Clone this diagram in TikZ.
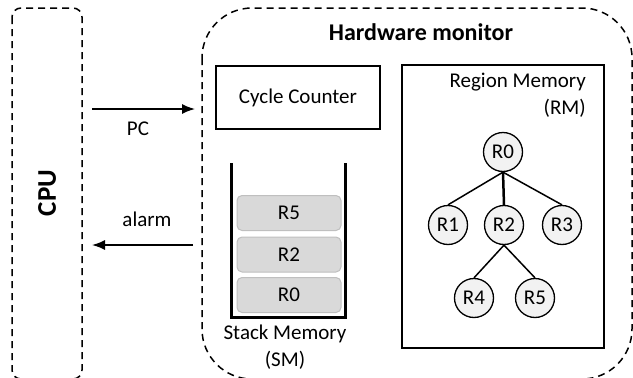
\documentclass[tikz,border=0pt]{standalone}
\usepackage{fontspec}
\setmainfont{Carlito}
\usetikzlibrary{arrows.meta}

\begin{document}
\begin{tikzpicture}
  [x=1pt,y=-1pt,font=\fontsize{21}{27}\selectfont,
   dashbox/.style={draw,dash pattern=on 7pt off 5pt,line width=1.5pt},
   plainbox/.style={draw,line width=1.6pt,inner sep=0pt},
   slot/.style={draw=black!25,fill=black!15,rounded corners=5pt,line width=1pt,
                minimum width=104pt,minimum height=35pt,inner sep=0pt},
   region/.style={draw,circle,line width=1.3pt,fill=black!5,minimum size=39pt,inner sep=0pt},
   sig/.style={line width=1.5pt,-{Latex[length=13pt,width=10pt]}}]
  \useasboundingbox (0,0) rectangle (633,378);

  % outer boxes
  \draw[dashbox,rounded corners=9pt] (12,8) rectangle (82,379);
  \draw[dashbox,rounded corners=50pt] (202,8) rectangle (632,379);
  \node[font=\fontsize{27}{30}\selectfont\bfseries,rotate=90] (cpu) at (47,193) {CPU};
  \node[font=\fontsize{24}{28}\selectfont\bfseries] (hwm) at (421,32) {Hardware monitor};

  % signals
  \coordinate (pcfrom) at (92,109);
  \coordinate (pcto) at (195,109);
  \coordinate (alfrom) at (193,245);
  \coordinate (alto) at (92,245);
  \draw[sig] (pcfrom) -- (pcto);
  \draw[sig] (alfrom) -- (alto);
  \node (pc) at (138,129) {PC};
  \node (alarm) at (147,219) {alarm};

  \node[plainbox,minimum width=164pt,minimum height=63pt] (cc) at (298,97.5) {Cycle Counter};

  % stack memory
  \coordinate (sm1) at (231,163);
  \coordinate (sm2) at (231,317);
  \coordinate (sm3) at (345,317);
  \coordinate (sm4) at (345,163);
  \draw[line width=3pt] (sm1) -- (sm2) -- (sm3) -- (sm4);
  \node[slot] (s5) at (289,213) {R5};
  \node[slot] (s2) at (289,254.5) {R2};
  \node[slot] (s0) at (289,295) {R0};
  \node[align=center] (sm) at (285,347) {Stack Memory\\(SM)};

  % region memory
  \node[plainbox,line width=2pt,minimum width=202pt,minimum height=283pt] (rm) at (503,206.5) {};
  \node[align=right,anchor=north east,inner sep=0pt] (rmlabel) at (586,73) {Region Memory\\(RM)};
  \node[region] (r0) at (503,152) {R0};
  \node[region] (r1) at (448,225) {R1};
  \node[region] (r2) at (504,225) {R2};
  \node[region] (r3) at (562,225) {R3};
  \node[region] (r4) at (474,298) {R4};
  \node[region] (r5) at (535,298) {R5};

  \foreach \from/\to in {r0/r1,r0/r3,r2/r4,r2/r5}
    \draw[line width=1.5pt] (\from.south) -- (\to.north);
  \draw[line width=2.5pt] (r0.south) -- (r2.north);

\end{tikzpicture}
\end{document}
